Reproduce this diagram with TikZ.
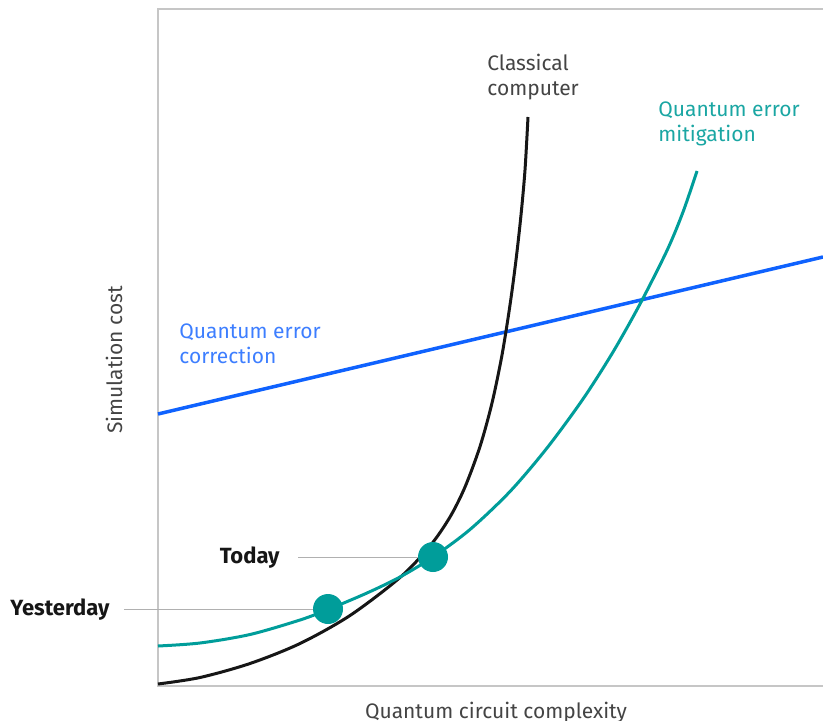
\documentclass[tikz,border=0pt]{standalone}
\usepackage{fontspec}
\setmainfont{Fira Sans}
\definecolor{ibmteal}{HTML}{009D9A}
\definecolor{ibmblue}{HTML}{0F62FE}
\definecolor{tealtext}{HTML}{1AA6A3}
\definecolor{bluetext}{HTML}{3D7EFF}
\definecolor{inkblack}{HTML}{161616}
\definecolor{textgray}{HTML}{444444}
\definecolor{axisgray}{HTML}{C6C6C6}
\definecolor{leadgray}{HTML}{B0B0B0}
\begin{document}
\begin{tikzpicture}[x=0.5pt,y=-0.5pt,
  axisline/.style={draw=axisgray,line width=0.75pt},
  curve/.style={line width=1.5pt},
  tag/.style={inner sep=0pt,align=left,font=\fontsize{10.5}{12.5}\selectfont},
  when/.style={inner sep=0pt,font=\fontsize{11}{13}\selectfont\bfseries,text=inkblack},
  dot/.style={circle,fill=ibmteal,minimum size=15pt,inner sep=0pt},
  leader/.style={draw=leadgray,line width=0.5pt}]
\useasboundingbox (0,0) rectangle (823,721);
\path[axisline] (823,9) -- (158,9) -- (158,686) -- (823,686);
\node[tag,text=textgray,anchor=base] (xlab) at (496,718) {Quantum circuit complexity};
\node[tag,text=textgray,anchor=base,rotate=90] (ylab) at (122,360) {Simulation cost};

\path[draw,ibmblue,line width=1.75pt] (158,414) -- (823,257);
\draw[curve,inkblack] plot[smooth] coordinates {(158,684) (200,677.5) (250,663.5) (300,643.5) (350,615.5) (400,577.5) (430,546) (450,517) (465,487) (480,446.5) (492,403) (502,355) (510,305) (516,260) (521,215) (525,170) (528,117)};
\draw[curve,ibmteal] plot[smooth] coordinates {(158,646) (200,643) (250,634.5) (300,620) (328,609.5) (367,593) (400,577) (433,557) (470,529.5) (510,491.5) (547,448) (583,399) (613,352) (640,304) (667,250.5) (683,212) (697,171)};

\node[tag,text=textgray,anchor=north west] (classical) at (487,54) {Classical\\computer};
\node[tag,text=tealtext,anchor=north west] (mitigation) at (658,101) {Quantum error\\mitigation};
\node[tag,text=bluetext,anchor=north west] (correction) at (179,323) {Quantum error\\correction};

\node[when,anchor=base east] (today) at (280,563) {Today};
\node[when,anchor=base west] (yesterday) at (10,615) {Yesterday};
\node[dot] (todaydot) at (433,557) {};
\node[dot] (yesterdaydot) at (328,609) {};
\draw[leader,shorten <=9pt] (today.east |- todaydot) -- (todaydot);
\draw[leader,shorten <=7pt] (yesterday.east |- yesterdaydot) -- (yesterdaydot);
\end{tikzpicture}
\end{document}
